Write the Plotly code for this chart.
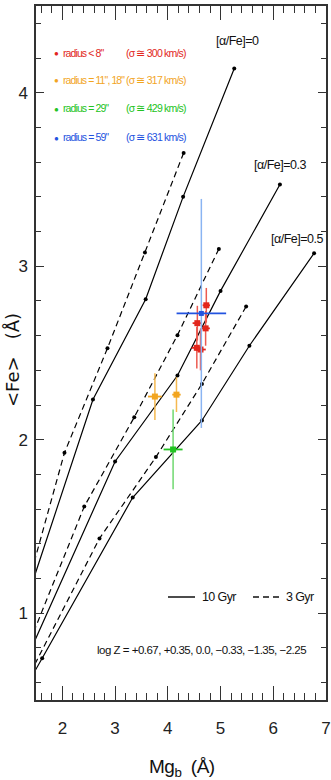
import plotly.graph_objects as go

# ---------------- data ----------------
# model grids (Mgb, <Fe>), ordered high Z -> low Z
a00_10_x = [5.26, 4.29, 3.58, 2.58, 1.20]
a00_10_y = [4.14, 3.40, 2.81, 2.232, 0.965]
a00_3_x = [4.30, 3.566, 2.855, 2.04, 1.20]
a00_3_y = [3.653, 3.079, 2.527, 1.925, 1.004]

a03_10_x = [6.126, 5.00, 4.183, 3.00, 1.40]
a03_10_y = [3.471, 2.858, 2.37, 1.875, 0.789]
a03_3_x = [4.968, 4.183, 3.364, 2.415, 1.40]
a03_3_y = [3.10, 2.603, 2.13, 1.615, 0.85]

a05_10_x = [6.774, 5.547, 4.647, 3.334, 1.617, 1.30]
a05_10_y = [3.075, 2.542, 2.111, 1.667, 0.741, 0.57]
a05_3_x = [5.485, 4.647, 3.774, 2.704, 1.40]
a05_3_y = [2.768, 2.322, 1.90, 1.431, 0.66]

# observations
red_x = [4.73, 4.56, 4.717, 4.55, 4.62]
red_y = [2.775, 2.672, 2.642, 2.53, 2.52]
red_ex = [0.07, 0.09, 0.08, 0.10, 0.10]
red_ey = [0.10, 0.10, 0.10, 0.12, 0.12]

orange_x = [3.755, 4.164]
orange_y = [2.249, 2.26]
orange_ex = [0.13, 0.08]
orange_ey = [0.135, 0.10]

green_x = [4.10]
green_y = [1.944]
green_ex = [0.18]
green_ey = [0.23]

blue_x = [4.636]
blue_y = [2.728]
blue_ex = [0.47]
blue_ey = [0.66]

legend_radius = ['radius < 8"', 'radius = 11", 18"', 'radius = 29"', 'radius = 59"']
legend_sigma = ['(σ ≅ 300 km/s)', '(σ ≅ 317 km/s)', '(σ ≅ 429 km/s)', '(σ ≅ 631 km/s)']
alpha_labels = ['[α/Fe]=0', '[α/Fe]=0.3', '[α/Fe]=0.5']
x_ticks = [2, 3, 4, 5, 6, 7]
y_ticks = [1, 2, 3, 4]

# ---------------- styling ----------------
FONT = "Liberation Sans, Arial, sans-serif"
RED, ORANGE, GREEN, BLUE = "#e2261c", "#f2a51f", "#22c322", "#2353e0"
RED_L, ORANGE_L, GREEN_L, BLUE_L = "#ec5a50", "#f5b950", "#6fd86f", "#8ab4f2"
AXC = "#333333"


def tight(s, ls):
    return '<span style="letter-spacing:%spx">%s</span>' % (ls, s)


fig = go.Figure()

models = [
    (a00_10_x, a00_10_y, "solid"), (a00_3_x, a00_3_y, "6px,4px"),
    (a03_10_x, a03_10_y, "solid"), (a03_3_x, a03_3_y, "6px,4px"),
    (a05_10_x, a05_10_y, "solid"), (a05_3_x, a05_3_y, "6px,4px"),
]
for mx, my, dash in models:
    fig.add_trace(go.Scatter(
        x=mx, y=my, mode="lines+markers",
        line=dict(color="black", width=1.2, dash=dash),
        marker=dict(color="black", size=4),
        showlegend=False, hoverinfo="skip"))

obs = [
    (red_x, red_y, red_ex, red_ey, RED, RED_L, 6),
    (orange_x, orange_y, orange_ex, orange_ey, ORANGE, ORANGE_L, 6),
    (green_x, green_y, green_ex, green_ey, GREEN, GREEN_L, 6),
    (blue_x, blue_y, blue_ex, blue_ey, BLUE, BLUE_L, 5),
]
for ox, oy, ex, ey, c, cl, sz in obs:
    fig.add_trace(go.Scatter(
        x=ox, y=oy, mode="markers",
        marker=dict(color=c, size=sz, symbol="square"),
        error_x=dict(type="data", array=ex, color=c, thickness=1.8, width=0),
        error_y=dict(type="data", array=ey, color=cl, thickness=1.5, width=0),
        showlegend=False, hoverinfo="skip"))

# ---------------- annotations ----------------
def px2x(px):
    return (px - 36) / 290.0


def py2y(py):
    return (700 - py) / 694.0


ann = []
row_py = [53, 80, 108, 137]
cols = [RED, ORANGE, GREEN, BLUE]
for i in range(4):
    ann.append(dict(x=px2x(56), y=py2y(row_py[i]), xref="paper", yref="paper",
                    text="●", showarrow=False, xanchor="center", yanchor="middle",
                    font=dict(size=8, color=cols[i])))
    ann.append(dict(x=px2x(61), y=py2y(row_py[i]), xref="paper", yref="paper",
                    text=tight(legend_radius[i], -0.9), showarrow=False,
                    xanchor="left", yanchor="middle",
                    font=dict(size=10.5, color=cols[i], family=FONT)))
    ann.append(dict(x=px2x(124), y=py2y(row_py[i]), xref="paper", yref="paper",
                    text=tight(legend_sigma[i], -0.8), showarrow=False,
                    xanchor="left", yanchor="middle",
                    font=dict(size=10.5, color=cols[i], family=FONT)))

alpha_pos = [(237, 41), (279.5, 165), (296.7, 239)]
for lab, (ax_, ay_) in zip(alpha_labels, alpha_pos):
    ann.append(dict(x=px2x(ax_), y=py2y(ay_), xref="paper", yref="paper",
                    text=tight(lab, -0.5), showarrow=False, xanchor="center", yanchor="middle",
                    font=dict(size=12.5, color="#111", family=FONT)))

ann.append(dict(x=px2x(200), y=py2y(597), xref="paper", yref="paper", text=tight("10 Gyr", -0.6),
                showarrow=False, xanchor="left", yanchor="middle",
                font=dict(size=12.5, color="#111", family=FONT)))
ann.append(dict(x=px2x(284), y=py2y(597), xref="paper", yref="paper", text=tight("3 Gyr", -0.6),
                showarrow=False, xanchor="left", yanchor="middle",
                font=dict(size=12.5, color="#111", family=FONT)))
ann.append(dict(x=px2x(201.5), y=py2y(650), xref="paper", yref="paper",
                text=tight("log Z = +0.67, +0.35, 0.0, −0.33, −1.35, −2.25", -0.5),
                showarrow=False, xanchor="center", yanchor="middle",
                font=dict(size=11.5, color="#111", family=FONT)))
ann.append(dict(x=px2x(182), y=py2y(768), xref="paper", yref="paper",
                text=tight("Mg<sub>b</sub>  (Å)", -0.5), showarrow=False,
                xanchor="center", yanchor="middle",
                font=dict(size=19, color="#111", family=FONT)))
ann.append(dict(x=px2x(12), y=py2y(360), xref="paper", yref="paper",
                text="&lt;Fe&gt;   (Å)", showarrow=False, xanchor="center", yanchor="middle",
                textangle=-90, font=dict(size=18, color="#111", family="DejaVu Sans, sans-serif")))

shapes = [
    dict(type="line", xref="paper", yref="paper", x0=px2x(168), x1=px2x(195),
         y0=py2y(597), y1=py2y(597), line=dict(color="#111", width=1.5)),
    dict(type="line", xref="paper", yref="paper", x0=px2x(253), x1=px2x(279),
         y0=py2y(597), y1=py2y(597), line=dict(color="#111", width=1.5, dash="6px,4px")),
]

fig.update_layout(
    width=331, height=780,
    margin=dict(l=36, r=5, t=6, b=80),
    paper_bgcolor="white", plot_bgcolor="white",
    annotations=ann, shapes=shapes,
    xaxis=dict(range=[1.5, 7], tickvals=x_ticks, ticktext=[str(v) for v in x_ticks],
               automargin=False,
               ticks="inside", ticklen=14, tickwidth=1, tickcolor=AXC,
               showline=True, linecolor=AXC, linewidth=1.5, mirror="ticks",
               showgrid=False, zeroline=False, ticklabelstandoff=12,
               tickfont=dict(size=17, family=FONT, color="#222"),
               minor=dict(dtick=0.2, tick0=0, ticks="inside", ticklen=7, tickwidth=1, tickcolor=AXC)),
    yaxis=dict(range=[0.5, 4.5], tickvals=y_ticks, ticktext=[str(v) for v in y_ticks],
               automargin=False,
               ticks="inside", ticklen=8, tickwidth=1, tickcolor=AXC,
               showline=True, linecolor=AXC, linewidth=1.5, mirror="ticks",
               showgrid=False, zeroline=False, ticklabelstandoff=3,
               tickfont=dict(size=17, family=FONT, color="#222"),
               minor=dict(dtick=0.2, tick0=0, ticks="inside", ticklen=5, tickwidth=1, tickcolor=AXC)),
)

fig.write_html("out.html", config={"displayModeBar": False},
               post_script="document.body.style.margin='0';document.body.style.overflow='hidden';")
